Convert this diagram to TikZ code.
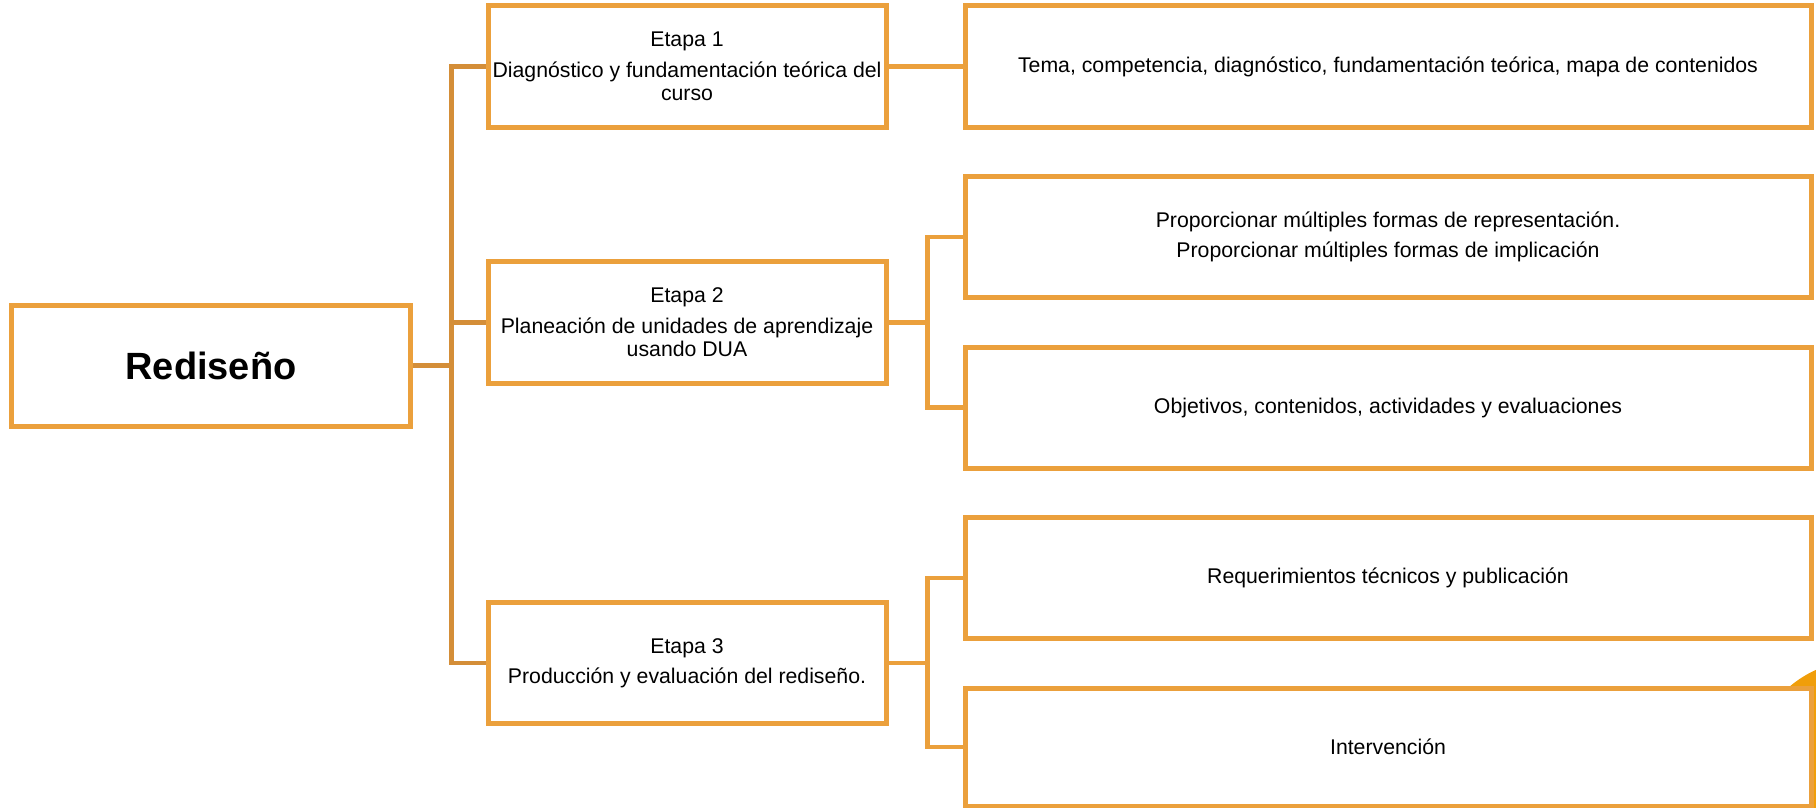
\documentclass[tikz,border=0pt]{standalone}
\usepackage{fontspec}
\setmainfont{Liberation Sans}
\usetikzlibrary{positioning}

\definecolor{boxorange}{RGB}{235,160,60}
\definecolor{linkorange}{RGB}{212,142,56}
\definecolor{bloborange}{RGB}{240,158,10}

\tikzset{
	basebox/.style={rectangle, draw=boxorange, line width=1mm, fill=white, inner sep=0pt, align=center, font=\fontsize{12.1}{13.3}\selectfont},
	mainbox/.style={basebox, minimum width=79.6mm, minimum height=24.2mm, font=\fontsize{21.6}{25}\selectfont\bfseries},
	stagebox/.style={basebox, minimum width=79.6mm, minimum height=24.2mm},
	itembox/.style={basebox, minimum width=169.2mm, minimum height=24.2mm},
	trunk/.style={draw=linkorange, line width=0.9mm},
	branch/.style={draw=boxorange, line width=0.9mm}
}

\begin{document}
\begin{tikzpicture}[x=0.2mm, y=-0.2mm]
	%%%%% START %%%%%
	\useasboundingbox (0,0) rectangle (1816,808);
	\clip (0,0) rectangle (1816,808);
	
	\fill[bloborange] (1862,772) circle (112);
	
	\node[mainbox] (redis) at (211,365.5) {Rediseño};
	
	\node[stagebox] (etapa1) at (687,66.5) {Etapa 1\\[4pt]Diagnóstico y fundamentación teórica del\\curso};
	\node[stagebox] (etapa2) at (687,322.5) {Etapa 2\\[4pt]Planeación de unidades de aprendizaje\\usando DUA};
	\node[stagebox] (etapa3) at (687,663) {Etapa 3\\[4pt]Producción y evaluación del rediseño.};
	
	\node[itembox] (tema) at (1388,66.5) {Tema, competencia, diagnóstico, fundamentación teórica, mapa de contenidos};
	\node[itembox] (formas) at (1388,237) {Proporcionar múltiples formas de representación.\\[4pt]Proporcionar múltiples formas de implicación};
	\node[itembox] (objet) at (1388,407.5) {Objetivos, contenidos, actividades y evaluaciones};
	\node[itembox] (requer) at (1388,578) {Requerimientos técnicos y publicación};
	\node[itembox, minimum height=23.6mm] (interv) at (1388,747) {Intervención};
	
	\draw[trunk] (redis.east) -- ++(39,0) coordinate (j1);
	\draw[trunk] (j1) |- (etapa1.west);
	\draw[trunk] (j1) |- (etapa2.west);
	\draw[trunk] (j1) |- (etapa3.west);
	
	\draw[branch] (etapa1.east) -- (tema.west);
	
	\draw[branch] (etapa2.east) -- ++(39,0) coordinate (j2);
	\draw[branch] (j2) |- (formas.west);
	\draw[branch] (j2) |- (objet.west);
	
	\draw[branch] (etapa3.east) -- ++(39,0) coordinate (j3);
	\draw[branch] (j3) |- (requer.west);
	\draw[branch] (j3) |- (interv.west);
	%%%%% END %%%%%
\end{tikzpicture}
\end{document}
